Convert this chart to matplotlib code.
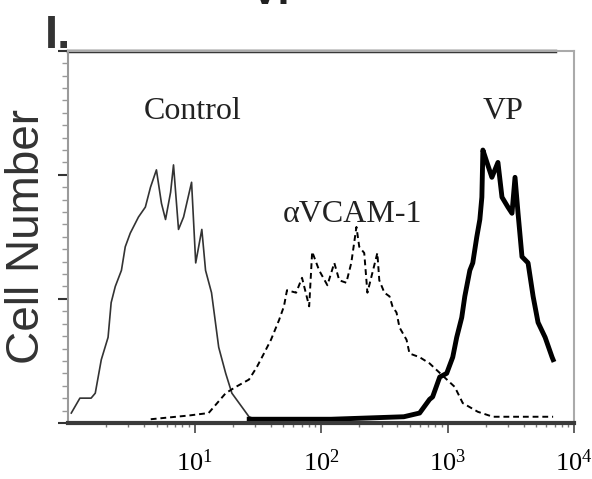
import matplotlib
matplotlib.use("Agg")
import matplotlib.pyplot as plt
from matplotlib.ticker import LogLocator, MultipleLocator, NullFormatter, FixedLocator, FixedFormatter

plt.rcParams['mathtext.fontset'] = 'custom'
plt.rcParams['mathtext.rm'] = 'Liberation Serif'

# Fluorescence intensity (x) and cell counts (y)
control_x = [1.06, 1.24, 1.52, 1.64, 1.83, 2.07, 2.19, 2.36, 2.64, 2.83, 3.10, 3.60, 4.08, 4.48,
             4.99, 5.47, 5.89, 6.46, 6.81, 7.46, 8.18, 9.46, 10.2, 11.4, 12.2, 13.6, 15.5, 17.6,
             19.7, 23.6, 26.9, 30.0]
control_y = [8, 20, 20, 24, 51, 69, 97, 110, 123, 142, 153, 166, 174, 190,
             204, 177, 164, 186, 208, 156, 166, 194, 129, 156, 123, 105, 61, 40,
             24, 13, 5, 3]

vcam_x = [4.5, 9.0, 12.9, 17.6, 21.1, 26.9, 31.0, 35.3, 40.1, 46.5, 50.8, 53.7, 63.4, 70.6,
          80.4, 84.9, 96.4, 112, 127, 139, 158, 173, 190, 200, 219, 232, 254, 278, 288,
          316, 347, 366, 394, 416, 473, 499, 600, 719, 1138, 1315, 1730, 2275, 3724, 6808]
vcam_y = [3, 6, 8, 24, 29, 35, 45, 56, 67, 83, 94, 107, 105, 117,
          94, 138, 123, 111, 129, 115, 113, 129, 158, 142, 137, 105, 121, 137, 115,
          105, 102, 94, 89, 77, 67, 56, 53, 48, 29, 16, 9, 5, 5, 5]

vp_x = [27, 120, 450, 600, 719, 760, 865, 982, 1096, 1178, 1291, 1365, 1496, 1578, 1698, 1795,
        1862, 1897, 2042, 2234, 2495, 2685, 2992, 3221, 3404, 3597, 3864, 4315, 4732,
        5176, 5888, 6683, 6808]
vp_y = [3, 3, 5, 8, 19, 21, 37, 40, 53, 69, 85, 102, 123, 129, 150, 164,
        182, 220, 210, 198, 210, 182, 174, 169, 198, 169, 134, 129, 102,
        81, 69, 53, 51]

tick_pos = [10, 100, 1000, 10000]
tick_text = [r'$\mathregular{10^{1}}$', r'$\mathregular{10^{2}}$',
             r'$\mathregular{10^{3}}$', r'$\mathregular{10^{4}}$']

fig = plt.figure(figsize=(5.92, 4.79), dpi=100)
ax = fig.add_axes([0.115, 0.117, 0.855, 0.777])

ax.plot(control_x, control_y, color='#333333', lw=1.2)
ax.plot(vcam_x, vcam_y, color='black', lw=1.4, linestyle=(0, (3, 2)))
ax.plot(vp_x, vp_y, color='black', lw=3.5)

ax.set_xscale('log')
ax.set_xlim(1, 10000)
ax.set_ylim(0, 300)

# spines
ax.spines['left'].set_color('#9a9a9a')
ax.spines['left'].set_linewidth(1.5)
ax.spines['right'].set_color('#aaaaaa')
ax.spines['right'].set_linewidth(1.5)
ax.spines['top'].set_color('#aaaaaa')
ax.spines['top'].set_linewidth(1.5)
ax.spines['bottom'].set_color('#3a3a3a')
ax.spines['bottom'].set_linewidth(3)
ax.axhline(300, xmin=0, xmax=0.962, color='#333333', lw=2.5, clip_on=False)

# x ticks
ax.xaxis.set_major_locator(FixedLocator(tick_pos))
ax.xaxis.set_major_formatter(FixedFormatter(tick_text))
ax.xaxis.set_minor_locator(LogLocator(base=10, subs=range(2, 10), numticks=20))
ax.xaxis.set_minor_formatter(NullFormatter())
ax.tick_params(axis='x', which='major', direction='out', length=7, width=1.3, color='#555555',
               labelsize=19, pad=12)
ax.tick_params(axis='x', which='minor', direction='out', length=3, width=1, color='#777777')
for lbl in ax.get_xticklabels():
    lbl.set_family('Liberation Serif')

# y ticks
ax.yaxis.set_major_locator(MultipleLocator(100))
ax.yaxis.set_minor_locator(MultipleLocator(10))
ax.tick_params(axis='y', which='major', direction='out', length=7, width=1.5, color='#333333',
               labelleft=False)
ax.tick_params(axis='y', which='minor', direction='out', length=4, width=1, color='#999999')

# labels in the plot
ax.text(0.247, 0.836, 'Control', transform=ax.transAxes, ha='center', va='center',
        fontsize=23, family='Liberation Serif', color='#222222')
ax.text(0.561, 0.559, '\u03b1VCAM-1', transform=ax.transAxes, ha='center', va='center',
        fontsize=23, family='Liberation Serif', color='#222222')
ax.text(0.860, 0.836, 'VP', transform=ax.transAxes, ha='center', va='center',
        fontsize=23, family='Liberation Serif', color='#222222')

fig.text(0.046, 1 - 237 / 479, 'Cell Number', rotation=90, ha='center', va='center',
         fontsize=33, family='Liberation Sans', color='#333333')

# panel letter and the title cut off at the top edge
fig.text(0.076, 1 - 48 / 479, 'I.', ha='left', va='baseline', fontsize=34,
         fontweight='bold', family='Liberation Sans', color='#333333')
fig.text(0.47, 1 - 4 / 479, 'VP', ha='center', va='baseline', fontsize=30,
         fontweight='bold', family='Liberation Sans', color='#222222')

fig.savefig('out.png', dpi=100)
